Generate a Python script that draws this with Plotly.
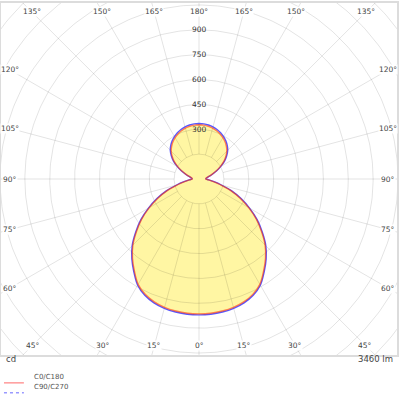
import numpy as np
import plotly.graph_objects as go

# luminous intensity (cd) per gamma angle, 0 = straight down, 180 = straight up
gamma = list(range(0, 181, 5))
c0_c180 = [814, 813, 809, 802, 789, 768, 734, 679, 624, 564, 492, 422, 346, 274, 204, 134, 88, 57, 40,
           41, 47, 62, 85, 114, 147, 182, 211, 237, 257, 274, 288, 300, 310, 318, 323, 326, 327]
c90_c270 = [820, 819, 815, 808, 795, 774, 740, 685, 630, 570, 498, 428, 352, 280, 210, 140, 92, 60, 42,
            43, 50, 65, 88, 118, 152, 188, 218, 245, 265, 282, 296, 308, 318, 326, 331, 334, 335]

angle_ticks = [0, 15, 30, 45, 60, 75, 90, 105, 120, 135, 150, 165, 180]
ring_values = list(range(150, 1651, 150))
ring_labels = [300, 450, 600, 750, 900]
series_names = ['C0/C180', 'C90/C270']
unit_text = 'cd'
flux_text = '3460 lm'

W, H = 400, 400
L, R, T, B = 1, 1, 1, 45
CD_PER_PX = 6
XMAX = (W - L - R) / 2 * CD_PER_PX
YMAX = (H - T - B) / 2 * CD_PER_PX

FONT = 'DejaVu Sans'
GRID = 'rgba(0,0,0,0.11)'


def px(x):
    # pixel -> paper x
    return (x - L) / (W - L - R)


def py(y):
    # pixel -> paper y
    return (H - B - y) / (H - T - B)


def closed_curve(values):
    ''' right half is C0 (or C90), left half mirrored as C180 (or C270) '''
    g = np.radians(gamma)
    v = np.array(values, float)
    xr, yr = v * np.sin(g), -v * np.cos(g)
    return np.concatenate([xr, -xr[::-1]]), np.concatenate([yr, yr[::-1]])


fig = go.Figure()

x0, y0 = closed_curve(c0_c180)
x90, y90 = closed_curve(c90_c270)

fig.add_trace(go.Scatter(x=x0, y=y0, mode='lines', fill='toself',
                         fillcolor='#fff6a3', line=dict(width=0, shape='spline'),
                         hoverinfo='skip'))

# polar grid: rings and spokes
gx, gy = [], []
t = np.linspace(0, 2 * np.pi, 361)
for r in ring_values:
    gx += list(r * np.cos(t)) + [None]
    gy += list(r * np.sin(t)) + [None]
for a in range(0, 360, 15):
    ar = np.radians(a)
    gx += [150 * np.sin(ar), 2500 * np.sin(ar), None]
    gy += [-150 * np.cos(ar), -2500 * np.cos(ar), None]
fig.add_trace(go.Scatter(x=gx, y=gy, mode='lines', line=dict(color=GRID, width=1),
                         hoverinfo='skip'))

fig.add_trace(go.Scatter(x=x90, y=y90, mode='lines', name=series_names[1],
                         line=dict(color='rgba(70,70,255,0.9)', width=1.4, shape='spline')))
fig.add_trace(go.Scatter(x=x0, y=y0, mode='lines', name=series_names[0],
                         line=dict(color='rgba(255,50,0,0.6)', width=1.4, shape='spline')))

ann = []
# angle labels along the frame
for a in angle_ticks:
    if a <= 45:
        y = -(YMAX - 10 * CD_PER_PX)
        x = abs(y) * np.tan(np.radians(a))
    elif a <= 120:
        x = XMAX - 9 * CD_PER_PX
        y = x * np.tan(np.radians(a - 90))
    else:
        y = YMAX - 9 * CD_PER_PX
        x = y * np.tan(np.radians(180 - a))
    for sx in ([1] if a in (0, 180) else [-1, 1]):
        ann.append(dict(x=sx * x, y=y, text='{}°'.format(a), showarrow=False,
                        font=dict(family=FONT, size=7.5, color='#444'),
                        bgcolor='white', borderpad=0))

for r in ring_labels:
    ann.append(dict(x=0, y=r, text=str(r), showarrow=False,
                    font=dict(family=FONT, size=7.5, color='#333')))

ann.append(dict(x=px(4), y=py(366), xref='paper', yref='paper', text=unit_text,
                showarrow=False, xanchor='left', font=dict(family=FONT, size=8.5, color='#444')))
ann.append(dict(x=px(397), y=py(366), xref='paper', yref='paper', text=flux_text,
                showarrow=False, xanchor='right', font=dict(family=FONT, size=8.5, color='#444')))

shapes = []
legend_rows = [(383, '#ff9999', 'solid'), (393, '#9999ff', '3px,3px')]
for (row, color, dash), name in zip(legend_rows, series_names):
    shapes.append(dict(type='line', xref='paper', yref='paper', x0=px(4), x1=px(24),
                       y0=py(row), y1=py(row), line=dict(color=color, width=1.5, dash=dash)))
    ann.append(dict(x=px(32), y=py(row), xref='paper', yref='paper', text=name,
                    showarrow=False, xanchor='left', font=dict(family=FONT, size=7, color='#555')))

fig.update_layout(
    width=W, height=H,
    margin=dict(l=L, r=R, t=T, b=B),
    paper_bgcolor='white', plot_bgcolor='white',
    showlegend=False,
    annotations=ann,
    shapes=shapes,
    xaxis=dict(range=[-XMAX, XMAX], showgrid=False, zeroline=False, showticklabels=False,
               showline=True, mirror=True, linecolor='#dcdcdc', linewidth=1.5, fixedrange=True),
    yaxis=dict(range=[-YMAX, YMAX], showgrid=False, zeroline=False, showticklabels=False,
               showline=True, mirror=True, linecolor='#dcdcdc', linewidth=1.5, fixedrange=True),
)

# page body has a default 8px margin; drop it so the 400x400 figure fills the window
fig.write_html("out.html", config={'displayModeBar': False},
               post_script="document.body.style.margin='0';")
